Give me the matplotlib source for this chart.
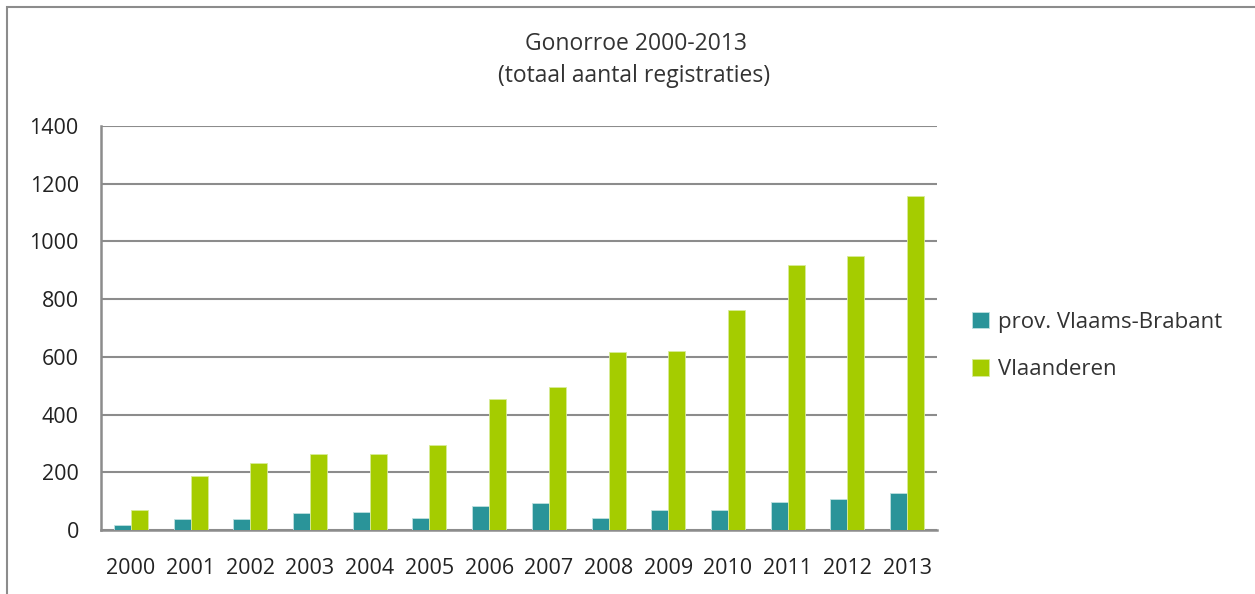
import matplotlib.pyplot as plt
import numpy as np
from matplotlib.patches import Rectangle

plt.rcParams['font.family'] = ['Open Sans', 'DejaVu Sans']

jaren = ['2000', '2001', '2002', '2003', '2004', '2005', '2006',
         '2007', '2008', '2009', '2010', '2011', '2012', '2013']
vlaams_brabant = [18, 38, 37, 59, 63, 42, 82, 95, 41, 71, 68, 98, 106, 128]
vlaanderen = [69, 186, 231, 264, 262, 294, 455, 497, 618, 620, 762, 917, 951, 1156]
y_ticks = [0, 200, 400, 600, 800, 1000, 1200, 1400]

W, H = 1255, 594
fig = plt.figure(figsize=(W / 100, H / 100), dpi=100)
ax = fig.add_axes([101 / W, 1 - 530 / H, (937 - 101) / W, (530 - 126) / H])

# rand rond de grafiek
fig.patches.append(Rectangle((6.5 / W, -0.1), 1.2, 1 - 6.5 / H + 0.1,
                             transform=fig.transFigure, fill=False,
                             edgecolor='#8c8c8c', linewidth=1.5))

x = np.arange(len(jaren))
bw = 0.285
ax.bar(x - bw / 2, vlaams_brabant, bw, color='#2A9499', edgecolor='#bfe0e0',
       linewidth=0.6, label='prov. Vlaams-Brabant', zorder=3)
ax.bar(x + bw / 2, vlaanderen, bw, color='#A5CC00', edgecolor='#d8ec99',
       linewidth=0.6, label='Vlaanderen', zorder=3)

ax.set_xlim(-0.5, len(jaren) - 0.5)
ax.set_ylim(0, 1400)
ax.set_yticks(y_ticks)
ax.set_xticks(x)
ax.set_xticklabels(jaren)
ax.grid(axis='y', color='#8c8c8c', linewidth=1.5, zorder=0)
for s in ['top', 'right']:
    ax.spines[s].set_visible(False)
for s in ['left', 'bottom']:
    ax.spines[s].set_color('#8c8c8c')
    ax.spines[s].set_linewidth(1.8)
ax.tick_params(length=0, labelsize=15.5, colors='#222222')
ax.tick_params(axis='y', pad=16)
ax.tick_params(axis='x', pad=20)

fig.text(636 / W, 1 - 44 / H, 'Gonorroe 2000-2013', ha='center', va='center',
         fontsize=16.5, color='#333333')
fig.text(634 / W, 1 - 76 / H, '(totaal aantal registraties)', ha='center',
         va='center', fontsize=16.5, color='#333333')

leg = fig.legend(loc='center left', bbox_to_anchor=(952 / W, 1 - 346 / H),
                 frameon=False, fontsize=16, handlelength=0.75,
                 handleheight=0.75, handletextpad=0.4, labelspacing=1.2,
                 labelcolor='#333333')

fig.savefig('out.png', dpi=100)
